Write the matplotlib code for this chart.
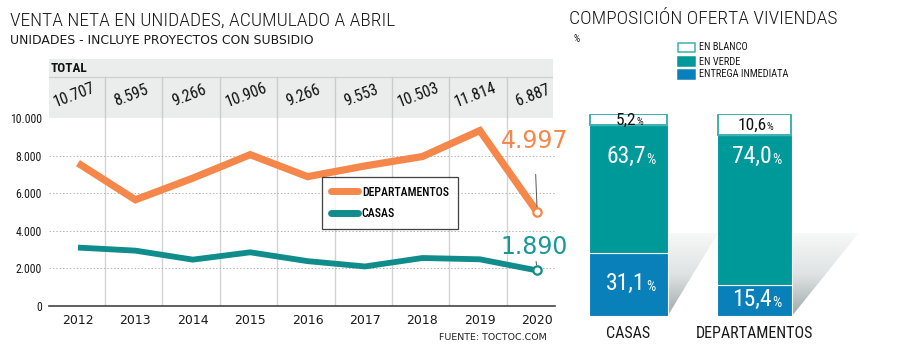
import matplotlib
matplotlib.use("Agg")
import matplotlib.pyplot as plt
import numpy as np
from matplotlib.colors import LinearSegmentedColormap
from matplotlib.lines import Line2D
from matplotlib.patches import Polygon, Rectangle

# ---- data ----
years = [2012, 2013, 2014, 2015, 2016, 2017, 2018, 2019, 2020]
totals = ["10.707", "8.595", "9.266", "10.906", "9.266", "9.553", "10.503", "11.814", "6.887"]
departamentos = [7600, 5650, 6800, 8050, 6880, 7450, 7950, 9330, 4997]
casas = [3107, 2945, 2466, 2856, 2386, 2103, 2553, 2484, 1890]
yticks = [0, 2000, 4000, 6000, 8000, 10000]

bar_cats = ["CASAS", "DEPARTAMENTOS"]
entrega = [31.1, 15.4]
en_verde = [63.7, 74.0]
en_blanco = [5.2, 10.6]
bar_legend = ["EN BLANCO", "EN VERDE", "ENTREGA INMEDIATA"]

NARROW = ["Roboto Condensed", "Roboto", "DejaVu Sans"]
ORANGE = "#f5874a"
TEAL_LINE = "#118c8c"
VERDE = "#00999a"
AZUL = "#0a80bb"
BLANCO_EDGE = "#3db0b0"

W, H = 900, 349
fig = plt.figure(figsize=(9, 3.49), dpi=100)


def px_box(x0, y0, x1, y1):
    # pixel box (top-left origin) -> figure fraction rect
    return [x0 / W, (H - y1) / H, (x1 - x0) / W, (y1 - y0) / H]


def fx(x):
    return x / W


def fy(y):
    return (H - y) / H


# ---- titles ----
fig.text(fx(10), fy(21), "VENTA NETA EN UNIDADES, ACUMULADO A ABRIL", family=NARROW,
         fontsize=14, fontweight="light", color="#1a1a1a", va="center", ha="left")
fig.text(fx(10), fy(41), "UNIDADES - INCLUYE PROYECTOS CON SUBSIDIO", family="DejaVu Sans",
         fontsize=8.9, color="#1a1a1a", va="center", ha="left")
fig.text(fx(569), fy(19), "COMPOSICIÓN OFERTA VIVIENDAS", family=NARROW,
         fontsize=14, fontweight="light", color="#1a1a1a", va="center", ha="left")
fig.text(fx(573), fy(39), "%", family=NARROW, fontsize=7, color="#1a1a1a", va="center")
fig.text(fx(547), fy(337), "FUENTE: TOCTOC.COM", family="DejaVu Sans", fontsize=6.8,
         color="#222222", va="center", ha="right")

# ---- left line chart ----
xlim = (2011.495, 2020.31)
seps = [y + 0.47 for y in years[:-1]]

ax = fig.add_axes(px_box(49, 118, 555, 306))
ax.set_xlim(*xlim)
ax.set_ylim(0, 10000)
for s in seps:
    ax.axvline(s, color="#d2d2d2", lw=1, zorder=0)
for t in yticks[1:-1]:
    ax.axhline(t, color="#b5b5b5", lw=0.7, ls=(0, (1.5, 2)), zorder=0)

ax.plot(years, departamentos, color=ORANGE, lw=5.2, solid_capstyle="butt",
        solid_joinstyle="miter", zorder=3)
ax.plot(years, casas, color=TEAL_LINE, lw=4.2, solid_capstyle="butt",
        solid_joinstyle="miter", zorder=3)
ax.plot(years[-1], departamentos[-1], "o", ms=6, mfc="white", mec=ORANGE, mew=1.6, zorder=4)
ax.plot(years[-1], casas[-1], "o", ms=6, mfc="white", mec=TEAL_LINE, mew=1.6, zorder=4)

ax.annotate(f"{departamentos[-1]:,}".replace(",", "."), xy=(years[-1], departamentos[-1]),
            xytext=(years[-1] - 0.05, 8750), ha="center", va="center", fontsize=17,
            color=ORANGE, family="DejaVu Sans",
            arrowprops=dict(arrowstyle="-", color="#555555", lw=0.7, shrinkA=13, shrinkB=4))
ax.annotate(f"{casas[-1]:,}".replace(",", "."), xy=(years[-1], casas[-1]),
            xytext=(years[-1] - 0.05, 3150), ha="center", va="center", fontsize=17,
            color="#1a9898", family="DejaVu Sans",
            arrowprops=dict(arrowstyle="-", color="#555555", lw=0.7, shrinkA=11, shrinkB=4))

ax.set_xticks(years)
ax.set_xticklabels([str(y) for y in years], family="DejaVu Sans", fontsize=9, color="#1a1a1a")
ax.set_yticks(yticks)
ax.set_yticklabels([f"{v:,}".replace(",", ".") for v in yticks], family=NARROW,
                   fontsize=8.5, color="#1a1a1a")
ax.tick_params(length=0, pad=6)
ax.tick_params(axis="y", pad=5)
for sp in ["top", "right", "left"]:
    ax.spines[sp].set_visible(False)
ax.spines["bottom"].set_color("#444444")
ax.spines["bottom"].set_linewidth(1.2)

handles = [Line2D([], [], color=ORANGE, lw=5, solid_capstyle="round"),
           Line2D([], [], color=TEAL_LINE, lw=5, solid_capstyle="round")]
leg = ax.legend(handles, ["DEPARTAMENTOS", "CASAS"], loc="center",
                bbox_to_anchor=(fx(390), fy(203)), bbox_transform=fig.transFigure,
                prop={"family": NARROW, "size": 8.5, "weight": "medium"}, frameon=True,
                fancybox=False, handlelength=2.3, handletextpad=0.3, borderpad=0.75,
                labelspacing=0.75, borderaxespad=0)
leg.get_frame().set_edgecolor("#111111")
leg.get_frame().set_linewidth(0.9)
leg.set_zorder(5)

# ---- header with totals ----
axh = fig.add_axes(px_box(49, 59, 553, 118))
axh.set_xlim(xlim[0], xlim[1] - 2 / 57.4)
axh.set_ylim(0, 1)
axh.set_facecolor("#ebecec")
split = 41 / 59
axh.axhline(split, color="#cfcfcf", lw=0.9)
for s in seps:
    axh.plot([s, s], [0, split], color="#cccccc", lw=1)
for yr, tot in zip(years, totals):
    axh.text(yr - 0.07, split * 0.55, tot, rotation=21, ha="center", va="center",
             family=NARROW, fontsize=11.5, color="#111111")
axh.text(xlim[0] + 0.03, (1 + split) / 2, "TOTAL", ha="left", va="center",
         family=NARROW, fontsize=9.5, fontweight="bold", color="#111111")
axh.set_xticks([])
axh.set_yticks([])
for sp in axh.spines.values():
    sp.set_visible(False)

# ---- right stacked bars ----
axb = fig.add_axes(px_box(560, 114, 900, 316))
axb.axis("off")
xpos = np.arange(len(bar_cats))
widths = [0.62, 0.595]

# shadows behind bars
shadow_cmap = LinearSegmentedColormap.from_list("sh", ["#9fa8a8", "#dfe3e3", "#f8f9f9"])
grad = np.linspace(0, 1, 256).reshape(-1, 1)
shadow_dx = [0.40, 0.53]
for xp, w, dx in zip(xpos, widths, shadow_dx):
    re = xp + w / 2
    top = 41.1
    poly = Polygon([(re - 0.05, 0), (re - 0.05, top), (re + dx, top), (re, 0)],
                   closed=True, facecolor="none", edgecolor="none")
    axb.add_patch(poly)
    im = axb.imshow(grad, extent=[re - 0.05, re + dx, 0, top], origin="lower",
                    cmap=shadow_cmap, aspect="auto", zorder=0.5)
    im.set_clip_path(poly)
axb.set_xlim(-0.544, 2.155)
axb.set_ylim(0, 100)

axb.bar(xpos, entrega, width=widths, color=AZUL, edgecolor="white", lw=0.8, zorder=2)
axb.bar(xpos, en_verde, width=widths, bottom=entrega, color=VERDE, edgecolor="white",
        lw=0.8, zorder=2)
base2 = [a + b for a, b in zip(entrega, en_verde)]
axb.bar(xpos, en_blanco, width=[w - 0.012 for w in widths], bottom=base2, color="white",
        edgecolor=BLANCO_EDGE, lw=1.4, zorder=2)


def pct_label(x, y, value, size, color):
    t = axb.text(x, y, f"{value:.1f}".replace(".", ","), ha="center", va="center",
                 family=NARROW, fontsize=size, color=color, zorder=4)
    axb.annotate("%", xy=(1, 0.05), xycoords=t, ha="left", va="bottom", family=NARROW,
                 fontsize=size * 0.62, color=color, zorder=4)


for i, xp in enumerate(xpos):
    pct_label(xp - 0.02, entrega[i] / 2 + 0.5, entrega[i], 17, "white")
    pct_label(xp - 0.02, 79, en_verde[i], 17, "white")
    pct_label(xp - 0.02, base2[i] + en_blanco[i] / 2 - 0.5, en_blanco[i], 12.5, "#111111")
    axb.text(xp, -8.5, bar_cats[i], ha="center", va="center", family=NARROW,
             fontsize=11.5, color="#1a1a1a", clip_on=False)

# legend squares for the bars
leg_fill = ["white", VERDE, AZUL]
leg_edge = [BLANCO_EDGE, VERDE, AZUL]
leg_y = [42.5, 56.8, 69.5]
for lab, fc, ec, yy in zip(bar_legend, leg_fill, leg_edge, leg_y):
    fig.add_artist(Rectangle((fx(677.5), fy(yy + 9)), 17 / W, 9 / H, facecolor=fc,
                             edgecolor=ec, lw=1.1, transform=fig.transFigure))
    fig.text(fx(699), fy(yy + 4.8), lab, family=NARROW, fontsize=7.5, color="#1a1a1a",
             va="center", ha="left")

fig.savefig("out.png", dpi=100)
